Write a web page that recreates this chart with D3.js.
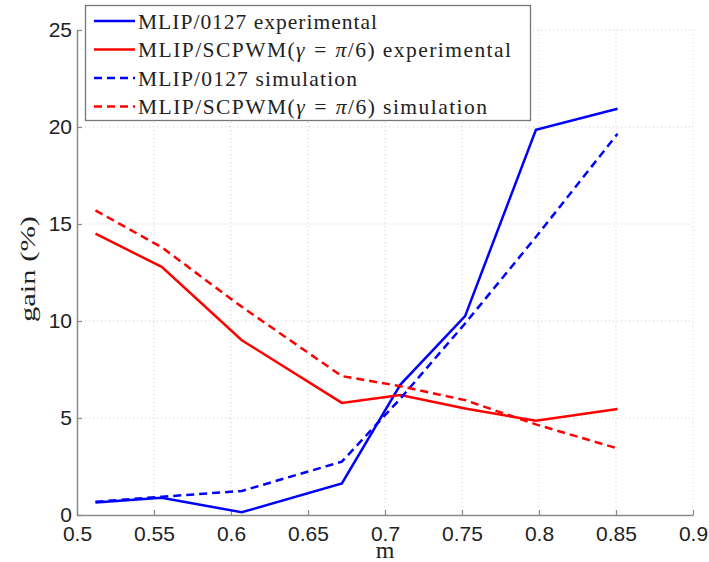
<!DOCTYPE html>
<html><head><meta charset="utf-8">
<script src="https://cdn.jsdelivr.net/npm/d3@7"></script>
<style>body{margin:0;background:#fff}</style>
</head><body><svg id="c" width="709" height="562"></svg>
<script>
const mValues = [0.512, 0.555, 0.607, 0.672, 0.71, 0.752, 0.798, 0.851];
const mlip0127Exp = [0.65, 0.89, 0.14, 1.63, 6.72, 10.25, 19.86, 20.94];
const scpwmExp    = [14.5, 12.79, 9.01, 5.78, 6.18, 5.49, 4.86, 5.46];
const mlip0127Sim = [0.68, 0.94, 1.24, 2.75, 6.0, 9.87, 14.33, 19.65];
const scpwmSim    = [15.7, 13.8, 10.73, 7.16, 6.64, 5.92, 4.67, 3.43];
const xTicks = [0.5, 0.55, 0.6, 0.65, 0.7, 0.75, 0.8, 0.85, 0.9];
const yTicks = [0, 5, 10, 15, 20, 25];
// legend names split into [prefix, math, suffix] parts so the Greek symbols can be italic
const seriesNames = [
  ["MLIP/0127 experimental"],
  ["MLIP/SCPWM(", "γ = π", "/6) experimental"],
  ["MLIP/0127 simulation"],
  ["MLIP/SCPWM(", "γ = π", "/6) simulation"]
];
const legendWidths = [239, 373, 219, 349];

const series = [
  {name: seriesNames[0], vals: mlip0127Exp, color: "#0000ff", dash: null},
  {name: seriesNames[1], vals: scpwmExp, color: "#ff0000", dash: null},
  {name: seriesNames[2], vals: mlip0127Sim, color: "#0000ff", dash: "8,5"},
  {name: seriesNames[3], vals: scpwmSim, color: "#ff0000", dash: "8,5"}
];

const svg = d3.select("#c");
const L = 77, R = 693, T = 30, B = 515;
const x = d3.scaleLinear().domain([0.5, 0.9]).range([L, R]);
const y = d3.scaleLinear().domain([0, 25]).range([B, T]);

// grid
const g = svg.append("g");
g.selectAll(".vg").data(xTicks.slice(1)).enter().append("line")
  .attr("x1", d => x(d)).attr("x2", d => x(d)).attr("y1", T).attr("y2", B)
  .attr("stroke", "#cccccc").attr("stroke-width", 1).attr("stroke-dasharray", "1,3");
g.selectAll(".hg").data(yTicks.slice(1)).enter().append("line")
  .attr("x1", L).attr("x2", R).attr("y1", d => y(d)).attr("y2", d => y(d))
  .attr("stroke", "#cccccc").attr("stroke-width", 1).attr("stroke-dasharray", "1,3");

// axes
const xAxis = d3.axisBottom(x).tickValues(xTicks).tickFormat(d => String(d)).tickSizeInner(-5).tickSizeOuter(0).tickPadding(11);
const yAxis = d3.axisLeft(y).tickValues(yTicks).tickFormat(d => String(d)).tickSizeInner(-5).tickSizeOuter(0).tickPadding(5);
const gx = svg.append("g").attr("transform", `translate(0,${B})`).call(xAxis);
const gy = svg.append("g").attr("transform", `translate(${L},0)`).call(yAxis);
[gx, gy].forEach(a => {
  a.select(".domain").attr("stroke", "#8a8a8a").attr("stroke-width", 1.5);
  a.selectAll(".tick line").attr("stroke", "#8a8a8a").attr("stroke-width", 1.2);
  a.selectAll(".tick text").attr("font-family", "Liberation Sans, Arial, sans-serif").attr("font-size", 21).attr("fill", "#222");
});
gx.selectAll(".tick text").attr("dy", "0.71em");

// lines
const line = d3.line().x((d, i) => x(mValues[i])).y(d => y(d));
series.forEach(s => {
  svg.append("path").datum(s.vals).attr("d", line)
    .attr("fill", "none").attr("stroke", s.color).attr("stroke-width", 2.5)
    .attr("stroke-dasharray", s.dash).attr("stroke-linejoin", "miter");
});

// axis labels
svg.append("text").attr("x", (L + R) / 2).attr("y", 558).attr("text-anchor", "middle")
  .attr("font-family", "Liberation Serif, serif").attr("font-size", 24).attr("fill", "#222").text("m");
svg.append("text").attr("transform", "translate(35,269) rotate(-90)").attr("text-anchor", "middle")
  .attr("font-family", "Liberation Serif, serif").attr("font-size", 21).attr("fill", "#222")
  .attr("textLength", 106).attr("lengthAdjust", "spacingAndGlyphs").text("gain (%)");

// legend
const lg = svg.append("g");
lg.append("rect").attr("x", 85.5).attr("y", 5.5).attr("width", 445).attr("height", 115)
  .attr("fill", "#fff").attr("stroke", "#777").attr("stroke-width", 1.3);
const rowY = [21, 49.5, 78, 106.5];
series.forEach((s, i) => {
  lg.append("line").attr("x1", 94).attr("x2", 135).attr("y1", rowY[i]).attr("y2", rowY[i])
    .attr("stroke", s.color).attr("stroke-width", 2.5).attr("stroke-dasharray", s.dash);
  const t = lg.append("text").attr("x", 138).attr("y", rowY[i]).attr("dy", "0.35em")
    .attr("font-family", "Liberation Serif, serif").attr("font-size", 21.5).attr("fill", "#222")
    .attr("textLength", legendWidths[i]).attr("lengthAdjust", "spacing");
  s.name.forEach((part, j) => {
    t.append("tspan").attr("font-style", j === 1 ? "italic" : null).text(part);
  });
});
</script></body></html>
